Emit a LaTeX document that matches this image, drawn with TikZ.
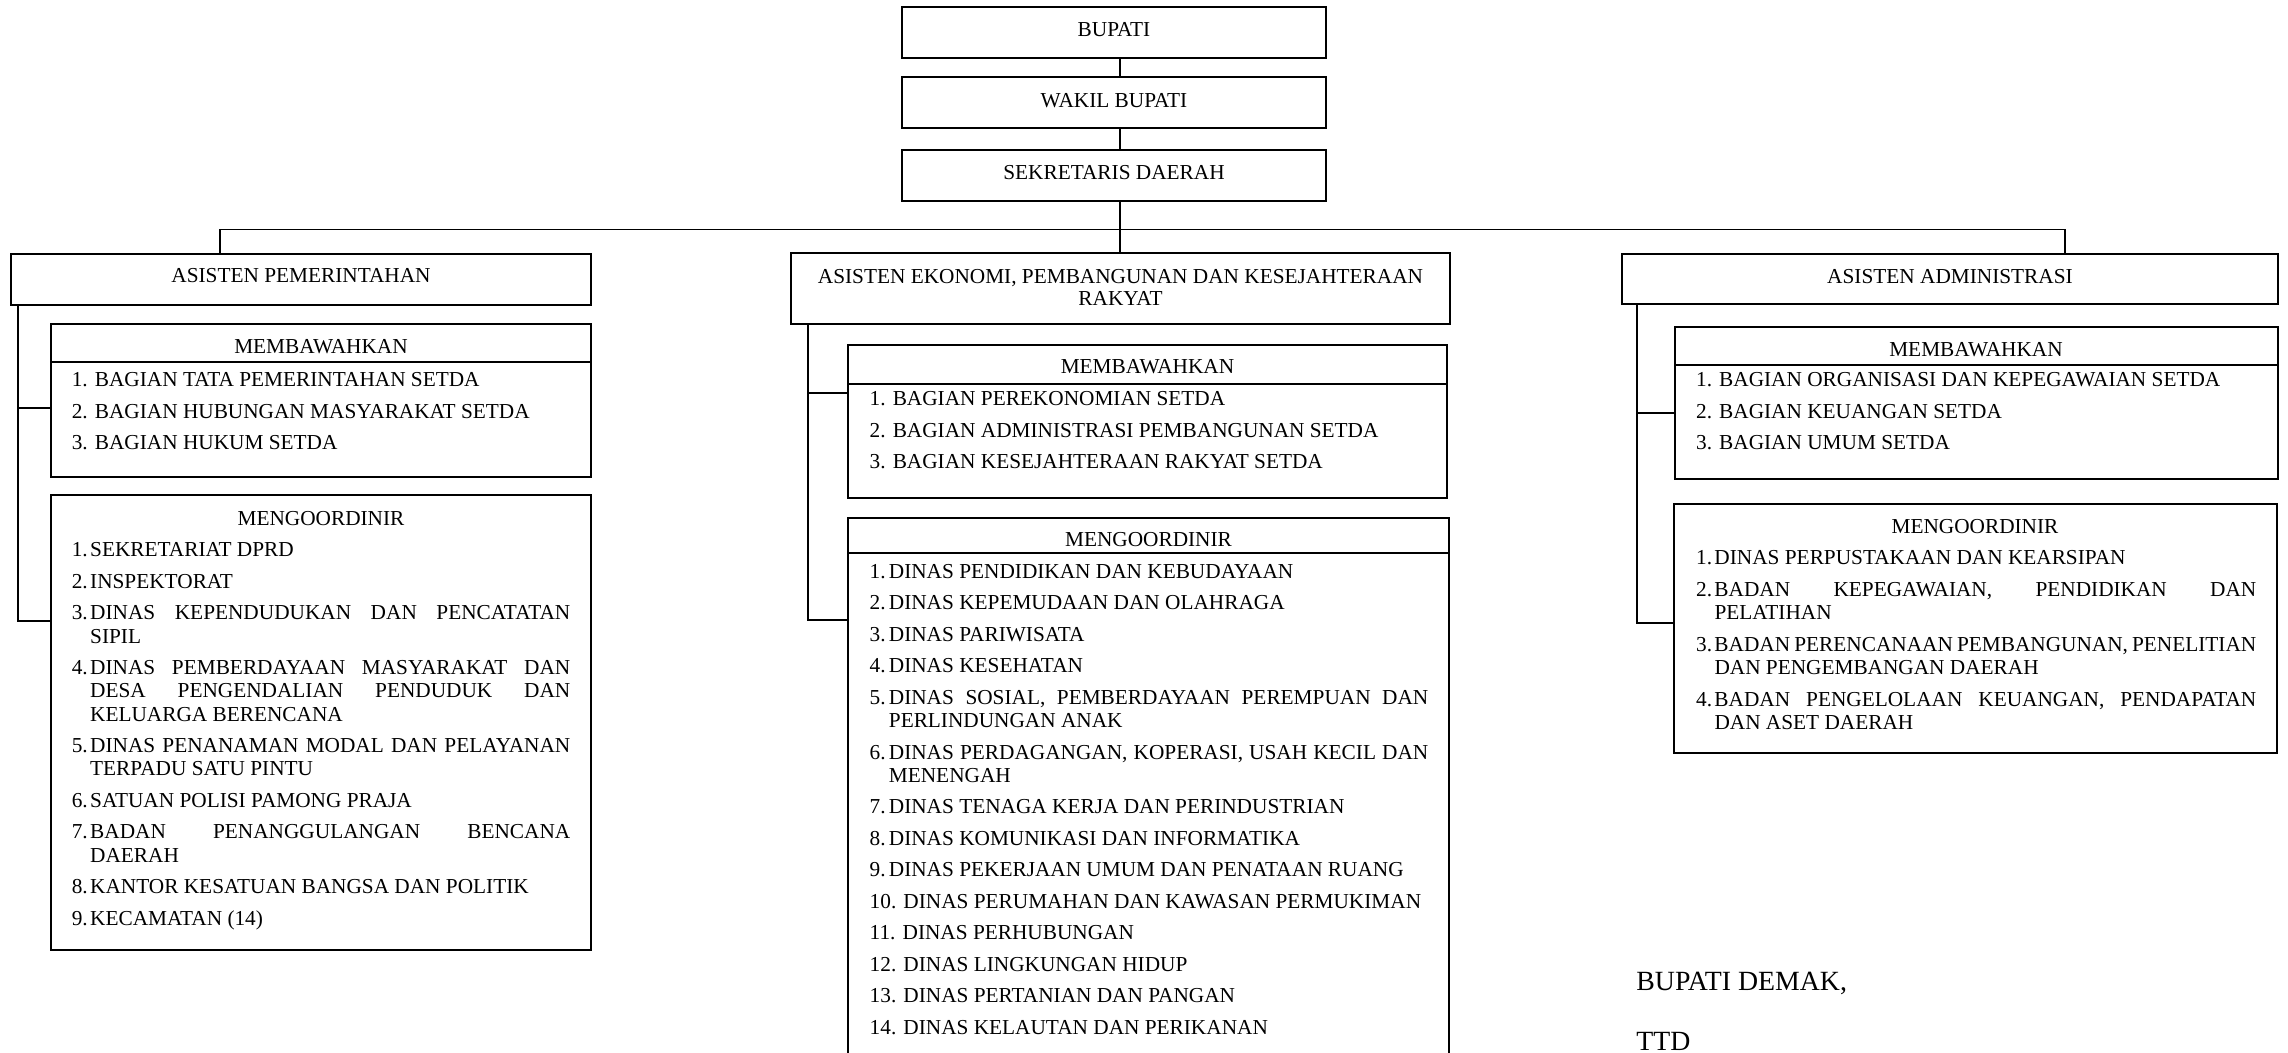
\documentclass[tikz,border=0pt]{standalone}
\usepackage{fontspec}
\setmainfont{Liberation Serif}
\usetikzlibrary{fit}
\newdimen\PX \PX=0.5pt
\newdimen\numw
\newcommand\bodyfont{\fontsize{10.65pt}{11.65pt}\selectfont}
\newcommand\JL[1]{\hbox to \hsize{#1}}
\newcommand\PL[1]{\hbox{#1}}
\newcommand\NB[1]{\hbox to \numw{#1\hss}}
\newcommand\IND{\NB{}}
\newcommand\GAP{\vskip 4.1pt\relax}
\tikzset{
  box/.style={draw, line width=0.9pt, inner sep=0pt},
  conn/.style={draw, line width=0.9pt},
  ttl/.style={inner sep=0pt, anchor=base, font=\bodyfont},
  lst/.style={inner sep=0pt, anchor=base west, font=\bodyfont},
  sig/.style={inner sep=0pt, anchor=base west, font=\fontsize{13.9pt}{16pt}\selectfont},
}
\begin{document}
\begin{tikzpicture}[x=0.5pt, y=-0.5pt]
\useasboundingbox (0,0) rectangle (2288,1053);
% boxes
\node[box, fit={(902,7) (1326,58)}] (bup) {};
\node[box, fit={(902,77) (1326,128)}] (wak) {};
\node[box, fit={(902,150) (1326,201)}] (sek) {};
\node[box, fit={(11,254) (591,305)}] (pem) {};
\node[box, fit={(791,253) (1450,324)}] (eko) {};
\node[box, fit={(1622,254) (2278,304)}] (adm) {};
\node[box, fit={(51,324) (591,477)}] (memL) {};
\node[box, fit={(51,495) (591,950)}] (menL) {};
\node[box, fit={(848,345) (1447,498)}] (memM) {};
\node[box, fit={(848,518) (1449,1090)}] (menM) {};
\node[box, fit={(1675,327) (2278,479)}] (memR) {};
\node[box, fit={(1674,504) (2277,753)}] (menR) {};
% header lines
\coordinate (hL) at (0,362);
\coordinate (hM) at (0,383.7);
\coordinate (hM2) at (0,553.3);
\coordinate (hR) at (0,365);
\draw[conn] (memL.west |- hL) -- (memL.east |- hL);
\draw[conn] (memM.west |- hM) -- (memM.east |- hM);
\draw[conn] (menM.west |- hM2) -- (menM.east |- hM2);
\draw[conn] (memR.west |- hR) -- (memR.east |- hR);
% titles
\node[ttl] (bupT) at (1114,36.7) {BUPATI};
\node[ttl] (wakT) at (1114,107.7) {WAKIL BUPATI};
\node[ttl] (sekT) at (1114,180) {SEKRETARIS DAERAH};
\node[ttl] (pemT) at (301,283) {ASISTEN PEMERINTAHAN};
\node[ttl] (ekoT1) at (1120.5,283.3) {ASISTEN EKONOMI, PEMBANGUNAN DAN KESEJAHTERAAN};
\node[ttl] (ekoT2) at (1120.5,306) {RAKYAT};
\node[ttl] (admT) at (1950,284) {ASISTEN ADMINISTRASI};
\node[ttl] (memLT) at (321,354) {MEMBAWAHKAN};
\node[ttl] (menLT) at (321,526) {MENGOORDINIR};
\node[ttl] (memMT) at (1147.5,374) {MEMBAWAHKAN};
\node[ttl] (menMT) at (1148.5,546.7) {MENGOORDINIR};
\node[ttl] (memRT) at (1976,356.7) {MEMBAWAHKAN};
\node[ttl] (menRT) at (1975,533.3) {MENGOORDINIR};
% connectors
\coordinate (cx) at (1120,0);
\draw[conn] (bup.south -| cx) -- (wak.north -| cx);
\draw[conn] (wak.south -| cx) -- (sek.north -| cx);
\draw[conn] (sek.south -| cx) -- (eko.north -| cx);
\coordinate (busL) at (220,229.5);
\coordinate (busR) at (2065,229.5);
\draw[conn] (pem.north -| busL) -- (busL) -- (busR) -- (adm.north -| busR);
\coordinate (l1) at (18,408);
\coordinate (l2) at (18,621);
\draw[conn] (pem.south -| l1) -- (l2) -- (l2 -| menL.west);
\draw[conn] (l1) -- (l1 -| memL.west);
\coordinate (m1) at (808,393.3);
\coordinate (m2) at (808,620);
\draw[conn] (eko.south -| m1) -- (m2) -- (m2 -| menM.west);
\draw[conn] (m1) -- (m1 -| memM.west);
\coordinate (r1) at (1637,412.7);
\coordinate (r2) at (1637,623.3);
\draw[conn] (adm.south -| r1) -- (r2) -- (r2 -| menR.west);
\draw[conn] (r1) -- (r1 -| memR.west);
% lists
\node[lst] (memLt) at (71.4,386.7) {\parbox[t]{499\PX}{\bodyfont
\PL{1. BAGIAN TATA PEMERINTAHAN SETDA}\GAP
\PL{2. BAGIAN HUBUNGAN MASYARAKAT SETDA}\GAP
\PL{3. BAGIAN HUKUM SETDA}}};
\node[lst] (menLt) at (71.4,556.7) {\parbox[t]{498.6\PX}{\bodyfont\numw=18.4\PX
\PL{\NB{1.}SEKRETARIAT DPRD}\GAP
\PL{\NB{2.}INSPEKTORAT}\GAP
\JL{\NB{3.}DINAS KEPENDUDUKAN DAN PENCATATAN}
\PL{\IND SIPIL}\GAP
\JL{\NB{4.}DINAS PEMBERDAYAAN MASYARAKAT DAN}
\JL{\IND DESA PENGENDALIAN PENDUDUK DAN}
\PL{\IND KELUARGA BERENCANA}\GAP
\JL{\NB{5.}DINAS PENANAMAN MODAL DAN PELAYANAN}
\PL{\IND TERPADU SATU PINTU}\GAP
\PL{\NB{6.}SATUAN POLISI PAMONG PRAJA}\GAP
\JL{\NB{7.}BADAN PENANGGULANGAN BENCANA}
\PL{\IND DAERAH}\GAP
\PL{\NB{8.}KANTOR KESATUAN BANGSA DAN POLITIK}\GAP
\PL{\NB{9.}KECAMATAN (14)}}};
\node[lst] (memMt) at (869.3,405.7) {\parbox[t]{558\PX}{\bodyfont
\PL{1. BAGIAN PEREKONOMIAN SETDA}\GAP
\PL{2. BAGIAN ADMINISTRASI PEMBANGUNAN SETDA}\GAP
\PL{3. BAGIAN KESEJAHTERAAN RAKYAT SETDA}}};
\node[lst] (menMt) at (869.3,578.3) {\parbox[t]{558.7\PX}{\bodyfont\numw=19.2\PX
\PL{\NB{1.}DINAS PENDIDIKAN DAN KEBUDAYAAN}\GAP
\PL{\NB{2.}DINAS KEPEMUDAAN DAN OLAHRAGA}\GAP
\PL{\NB{3.}DINAS PARIWISATA}\GAP
\PL{\NB{4.}DINAS KESEHATAN}\GAP
\JL{\NB{5.}DINAS SOSIAL, PEMBERDAYAAN PEREMPUAN DAN}
\PL{\IND PERLINDUNGAN ANAK}\GAP
\JL{\NB{6.}DINAS PERDAGANGAN, KOPERASI, USAH KECIL DAN}
\PL{\IND MENENGAH}\GAP
\PL{\NB{7.}DINAS TENAGA KERJA DAN PERINDUSTRIAN}\GAP
\PL{\NB{8.}DINAS KOMUNIKASI DAN INFORMATIKA}\GAP
\PL{\NB{9.}DINAS PEKERJAAN UMUM DAN PENATAAN RUANG}\GAP
\PL{10. DINAS PERUMAHAN DAN KAWASAN PERMUKIMAN}\GAP
\PL{11. DINAS PERHUBUNGAN}\GAP
\PL{12. DINAS LINGKUNGAN HIDUP}\GAP
\PL{13. DINAS PERTANIAN DAN PANGAN}\GAP
\PL{14. DINAS KELAUTAN DAN PERIKANAN}}};
\node[lst] (memRt) at (1695.7,386.7) {\parbox[t]{560\PX}{\bodyfont
\PL{1. BAGIAN ORGANISASI DAN KEPEGAWAIAN SETDA}\GAP
\PL{2. BAGIAN KEUANGAN SETDA}\GAP
\PL{3. BAGIAN UMUM SETDA}}};
\node[lst] (menRt) at (1695.7,565) {\parbox[t]{560.3\PX}{\bodyfont\numw=18.4\PX
\PL{\NB{1.}DINAS PERPUSTAKAAN DAN KEARSIPAN}\GAP
\JL{\NB{2.}BADAN KEPEGAWAIAN, PENDIDIKAN DAN}
\PL{\IND PELATIHAN}\GAP
\JL{\NB{3.}BADAN PERENCANAAN PEMBANGUNAN, PENELITIAN}
\PL{\IND DAN PENGEMBANGAN DAERAH}\GAP
\JL{\NB{4.}BADAN PENGELOLAAN KEUANGAN, PENDAPATAN}
\PL{\IND DAN ASET DAERAH}}};
% signature
\node[sig] (sig1) at (1636,990) {BUPATI DEMAK,};
\node[sig] (sig2) at (1636,1050.5) {TTD};
\end{tikzpicture}
\end{document}
